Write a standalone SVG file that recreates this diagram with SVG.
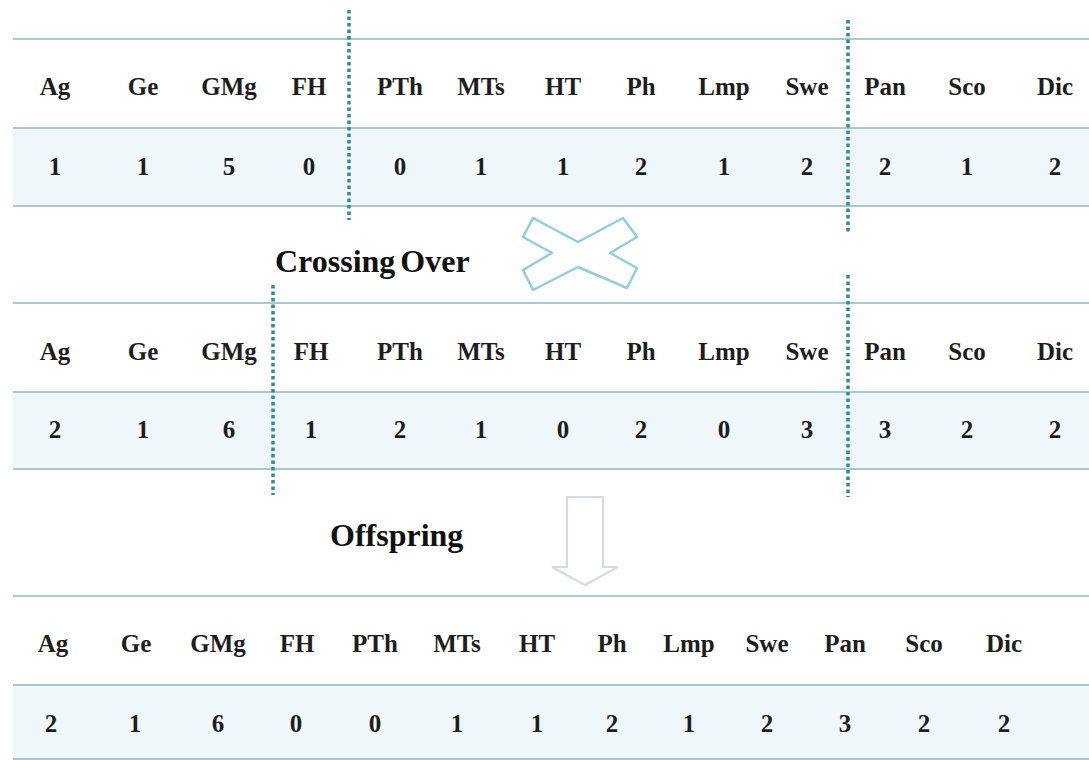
<svg xmlns="http://www.w3.org/2000/svg" width="1089" height="760" viewBox="0 0 1089 760">
<style>
.t{font-family:'Liberation Serif','Times New Roman',serif;font-weight:700;font-size:25px;fill:#1e1e1e;text-anchor:middle}
.big{font-family:'Liberation Serif','Times New Roman',serif;font-weight:700;font-size:32px;fill:#111}
.hl{stroke:#a7c9d3;stroke-width:2}
.val{fill:#f0f7fb}
.dot{stroke:#2e8aa1;stroke-width:3.5;stroke-dasharray:3.5 3;fill:none}
</style>
<rect width="1089" height="760" fill="#ffffff"/>
<g id="table1">
<rect class="val" x="13" y="128" width="1076" height="78"/>
<line class="hl" x1="13" y1="39" x2="1089" y2="39"/>
<line class="hl" x1="13" y1="128" x2="1089" y2="128"/>
<line class="hl" x1="13" y1="206" x2="1089" y2="206"/>
<g class="t">
<text x="55" y="95">Ag</text><text x="143" y="95">Ge</text><text x="229" y="95">GMg</text><text x="309" y="95">FH</text><text x="400" y="95">PTh</text><text x="481" y="95">MTs</text><text x="563" y="95">HT</text><text x="641" y="95">Ph</text><text x="724" y="95">Lmp</text><text x="807" y="95">Swe</text><text x="885" y="95">Pan</text><text x="967" y="95">Sco</text><text x="1055" y="95">Dic</text>
<text x="55" y="175">1</text><text x="143" y="175">1</text><text x="229" y="175">5</text><text x="309" y="175">0</text><text x="400" y="175">0</text><text x="481" y="175">1</text><text x="563" y="175">1</text><text x="641" y="175">2</text><text x="724" y="175">1</text><text x="807" y="175">2</text><text x="885" y="175">2</text><text x="967" y="175">1</text><text x="1055" y="175">2</text>
</g>
</g>
<g id="table2">
<rect class="val" x="13" y="392" width="1076" height="77"/>
<line class="hl" x1="13" y1="303" x2="1089" y2="303"/>
<line class="hl" x1="13" y1="392" x2="1089" y2="392"/>
<line class="hl" x1="13" y1="469" x2="1089" y2="469"/>
<g class="t">
<text x="55" y="360">Ag</text><text x="143" y="360">Ge</text><text x="229" y="360">GMg</text><text x="311" y="360">FH</text><text x="400" y="360">PTh</text><text x="481" y="360">MTs</text><text x="563" y="360">HT</text><text x="641" y="360">Ph</text><text x="724" y="360">Lmp</text><text x="807" y="360">Swe</text><text x="885" y="360">Pan</text><text x="967" y="360">Sco</text><text x="1055" y="360">Dic</text>
<text x="55" y="438">2</text><text x="143" y="438">1</text><text x="229" y="438">6</text><text x="311" y="438">1</text><text x="400" y="438">2</text><text x="481" y="438">1</text><text x="563" y="438">0</text><text x="641" y="438">2</text><text x="724" y="438">0</text><text x="807" y="438">3</text><text x="885" y="438">3</text><text x="967" y="438">2</text><text x="1055" y="438">2</text>
</g>
</g>
<g id="table3">
<rect class="val" x="13" y="685" width="1076" height="75"/>
<line class="hl" x1="13" y1="596" x2="1089" y2="596"/>
<line class="hl" x1="13" y1="685" x2="1089" y2="685"/>
<line class="hl" x1="13" y1="759" x2="1089" y2="759"/>
<g class="t">
<text x="53" y="652">Ag</text><text x="136" y="652">Ge</text><text x="218" y="652">GMg</text><text x="297" y="652">FH</text><text x="375" y="652">PTh</text><text x="457" y="652">MTs</text><text x="537" y="652">HT</text><text x="612" y="652">Ph</text><text x="689" y="652">Lmp</text><text x="767" y="652">Swe</text><text x="845" y="652">Pan</text><text x="924" y="652">Sco</text><text x="1004" y="652">Dic</text>
<text x="51" y="732">2</text><text x="135" y="732">1</text><text x="218" y="732">6</text><text x="296" y="732">0</text><text x="375" y="732">0</text><text x="457" y="732">1</text><text x="537" y="732">1</text><text x="612" y="732">2</text><text x="689" y="732">1</text><text x="767" y="732">2</text><text x="845" y="732">3</text><text x="924" y="732">2</text><text x="1004" y="732">2</text>
</g>
</g>
<g id="connectors">
<line class="dot" x1="349" y1="10" x2="349" y2="220"/>
<line class="dot" x1="848" y1="20" x2="848" y2="232"/>
<line class="dot" x1="273" y1="285" x2="273" y2="495"/>
<line class="dot" x1="848" y1="275" x2="848" y2="497"/>
</g>
<g id="crossing">
<polygon points="533,218 578,242 623,218 637,237 610,253 637,268 627,288 578,267 533,290 523,270 552,253 523,237" fill="#ffffff" stroke="#8fcfdc" stroke-width="2.5" stroke-linejoin="round"/>
<text class="big" x="275" y="272" word-spacing="-3">Crossing Over</text>
</g>
<g id="offspring">
<polygon points="567,497 603,497 603,567 618,567 585,585 552,567 567,567" fill="#ffffff" stroke="#cfdde3" stroke-width="2"/>
<text class="big" x="330" y="546">Offspring</text>
</g>
</svg>
